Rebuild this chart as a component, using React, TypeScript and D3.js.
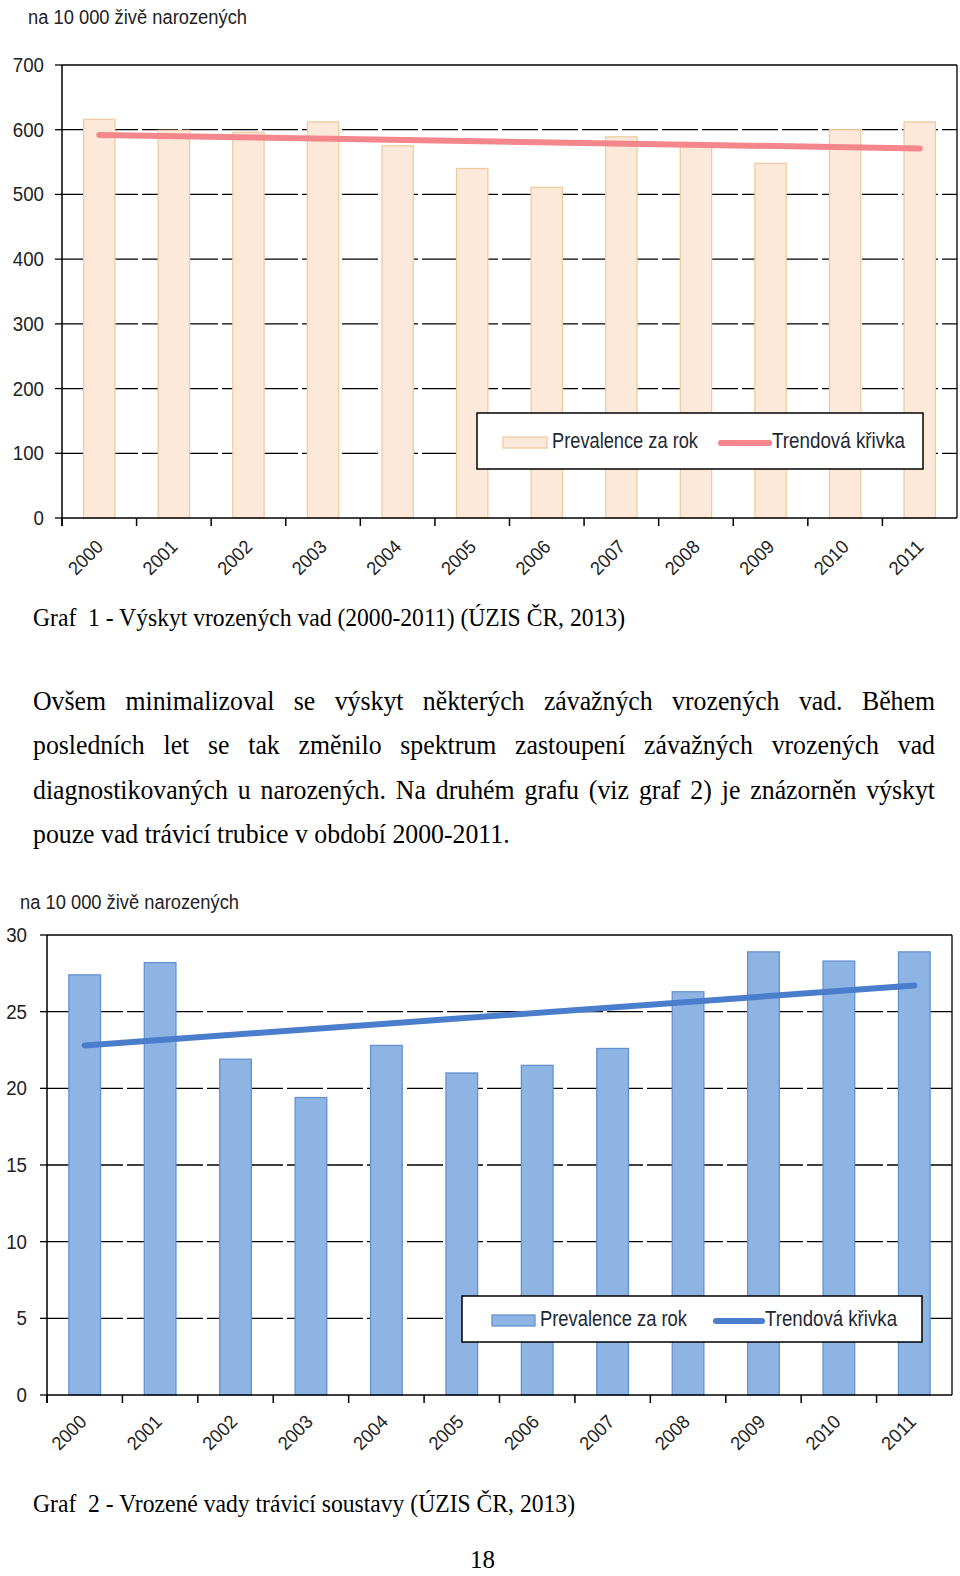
import React, { useMemo } from "react";
import * as d3 from "d3";

const years = ["2000","2001","2002","2003","2004","2005","2006","2007","2008","2009","2010","2011"];
const prevalence1 = [616, 599, 596, 612, 575, 540, 511, 589, 576, 548, 600, 612];
const trend1 = [592, 571];
const yTicks1 = [0, 100, 200, 300, 400, 500, 600, 700];

const prevalence2 = [27.4, 28.2, 21.9, 19.4, 22.8, 21.0, 21.5, 22.6, 26.3, 28.9, 28.3, 28.9];
const trend2 = [22.8, 26.7];
const yTicks2 = [0, 5, 10, 15, 20, 25, 30];

const unitTitle = "na 10 000 živě narozených";
const legendBar = "Prevalence za rok";
const legendLine = "Trendová křivka";
const caption1 = "Graf  1 - Výskyt vrozených vad (2000-2011) (ÚZIS ČR, 2013)";
const caption2 = "Graf  2 - Vrozené vady trávicí soustavy (ÚZIS ČR, 2013)";
const paragraph = [
  "Ovšem minimalizoval se výskyt některých závažných vrozených vad. Během",
  "posledních let se tak změnilo spektrum zastoupení závažných vrozených vad",
  "diagnostikovaných u narozených. Na druhém grafu (viz graf 2) je znázorněn výskyt",
  "pouze vad trávicí trubice v období 2000-2011.",
];
const pageNumber = "18";

const SANS = "'Liberation Sans', Arial, sans-serif";
const SERIF = "'Liberation Serif', 'Times New Roman', serif";

type ChartProps = {
  values: number[];
  trend: number[];
  ticks: number[];
  left: number; right: number; top: number; bottom: number;
  titleX: number; titleY: number;
  labelRight: number;
  barFill: string; barStroke: string; lineColor: string;
  legend: { x: number; y: number; w: number; h: number; sw: number; tx1: number; lx: number; tx2: number; ty: number; tw1: number; tw2: number };
  xLabelDx: number; xLabelDy: number;
};

function Chart(p: ChartProps) {
  const x = d3.scaleBand<string>().domain(years).range([p.left, p.right]).paddingInner(0.58).paddingOuter(0.29);
  const xEdges = d3.scaleBand<string>().domain(years).range([p.left, p.right]).padding(0);
  const yMax = p.ticks[p.ticks.length - 1];
  const y = d3.scaleLinear().domain([0, yMax]).range([p.bottom, p.top]);
  const center = (c: string) => (x(c) as number) + x.bandwidth() / 2;
  const trendPts: [number, number][] = [
    [center(years[0]), y(p.trend[0])],
    [center(years[years.length - 1]), y(p.trend[1])],
  ];
  const line = d3.line();
  const L = p.legend;
  return (
    <g>
      <text x={p.titleX} y={p.titleY} fontFamily={SANS} fontSize={20} fill="#222" textLength={219} lengthAdjust="spacingAndGlyphs">{unitTitle}</text>
      {p.ticks.map((t) => (
        <g key={"g" + t}>
          <line x1={p.left - 7} x2={p.left} y1={y(t)} y2={y(t)} stroke="#000" strokeWidth={1.3} />
          {t > 0 && t < yMax && (
            <line x1={p.left} x2={p.right} y1={y(t)} y2={y(t)} stroke="#000" strokeWidth={1.3} strokeDasharray="36 4" />
          )}
          <text x={p.labelRight} y={y(t) + 7} textAnchor="end" fontFamily={SANS} fontSize={20} fill="#222" textLength={String(t).length * 10.4} lengthAdjust="spacingAndGlyphs">{t}</text>
        </g>
      ))}
      <line x1={p.left} x2={p.right} y1={y(yMax)} y2={y(yMax)} stroke="#000" strokeWidth={1.3} />
      <line x1={p.right} x2={p.right} y1={y(yMax)} y2={y(0)} stroke="#000" strokeWidth={1.3} />
      {years.map((c, i) => (
        <rect key={"b" + c} x={x(c)} y={y(p.values[i])} width={x.bandwidth()} height={y(0) - y(p.values[i])}
          fill={p.barFill} stroke={p.barStroke} strokeWidth={1.3} />
      ))}
      <line x1={p.left} x2={p.left} y1={y(yMax)} y2={y(0) + 8} stroke="#000" strokeWidth={1.5} />
      <line x1={p.left} x2={p.right} y1={y(0)} y2={y(0)} stroke="#000" strokeWidth={1.5} />
      {years.map((c) => (
        <line key={"t" + c} x1={xEdges(c)} x2={xEdges(c)} y1={y(0)} y2={y(0) + 8} stroke="#000" strokeWidth={1.5} />
      ))}
      {years.map((c) => {
        const ax = center(c) + p.xLabelDx;
        const ay = y(0) + p.xLabelDy;
        return (
          <text key={"l" + c} x={ax} y={ay} transform={`rotate(-45 ${ax} ${ay})`} textAnchor="end"
            fontFamily={SANS} fontSize={19} fill="#222" textLength={40} lengthAdjust="spacingAndGlyphs">{c}</text>
        );
      })}
      <path d={line(trendPts) || ""} stroke={p.lineColor} strokeWidth={6} strokeLinecap="round" fill="none" />
      <rect x={L.x} y={L.y} width={L.w} height={L.h} fill="#fff" stroke="#000" strokeWidth={1.5} />
      <rect x={L.sw} y={L.ty - 11} width={L.tx1 - L.sw - 5} height={11} fill={p.barFill} stroke={p.barStroke} strokeWidth={1.3} />
      <text x={L.tx1} y={L.ty} fontFamily={SANS} fontSize={22} fill="#1e2833" textLength={L.tw1} lengthAdjust="spacingAndGlyphs">{legendBar}</text>
      <line x1={L.lx + 3} x2={L.tx2 - 3} y1={L.ty - 5} y2={L.ty - 5} stroke={p.lineColor} strokeWidth={6} strokeLinecap="round" />
      <text x={L.tx2} y={L.ty} fontFamily={SANS} fontSize={22} fill="#1e2833" textLength={L.tw2} lengthAdjust="spacingAndGlyphs">{legendLine}</text>
    </g>
  );
}

function Paragraph() {
  const left = 33, right = 935;
  const baselines = [710, 754, 799, 843];
  const size = 27;
  const squeeze = 0.955;
  const layout = useMemo(() => {
    const ctx = document.createElement("canvas").getContext("2d");
    if (ctx) ctx.font = `${size}px ${SERIF}`;
    const measure = (s: string) => (ctx ? ctx.measureText(s).width : s.length * 11) * squeeze;
    const spaceW = measure(" ");
    return paragraph.map((ln, li) => {
      const words = ln.split(" ");
      const widths = words.map(measure);
      const total = widths.reduce((a, b) => a + b, 0);
      const last = li === paragraph.length - 1;
      const gap = last ? spaceW : (right - left - total) / (words.length - 1);
      let cx = left;
      return words.map((w, i) => {
        const pos = cx;
        cx += widths[i] + gap;
        return { w, x: pos, len: widths[i] };
      });
    });
  }, []);
  return (
    <g fontFamily={SERIF} fontSize={size} fill="#000">
      {layout.map((ws, li) =>
        ws.map((o, i) => (
          <text key={li + "-" + i} x={o.x} y={baselines[li]} textLength={o.len} lengthAdjust="spacingAndGlyphs">{o.w}</text>
        ))
      )}
    </g>
  );
}

export default function App() {
  return (
    <svg width={960} height={1576} style={{ position: "absolute", left: 0, top: 0, background: "#fff" }}>
      <rect x={0} y={0} width={960} height={1576} fill="#fff" />
      <Chart values={prevalence1} trend={trend1} ticks={yTicks1}
        left={62} right={957} top={65} bottom={518} titleX={28} titleY={24} labelRight={44}
        barFill="#FDE9DA" barStroke="#EFCBA3" lineColor="#F5868B"
        legend={{ x: 477, y: 413, w: 446, h: 56, sw: 503, tx1: 552, lx: 718, tx2: 772, ty: 448, tw1: 146, tw2: 133 }}
        xLabelDx={5} xLabelDy={30} />
      <text x={33} y={626} fontFamily={SERIF} fontSize={26} fill="#000" style={{ whiteSpace: "pre" }} textLength={592} lengthAdjust="spacingAndGlyphs">{caption1}</text>
      <Paragraph />
      <Chart values={prevalence2} trend={trend2} ticks={yTicks2}
        left={47} right={952} top={935} bottom={1395} titleX={20} titleY={909} labelRight={27}
        barFill="#8EB4E3" barStroke="#6592CF" lineColor="#4A7ECD"
        legend={{ x: 462, y: 1296, w: 460, h: 46, sw: 492, tx1: 540, lx: 713, tx2: 765, ty: 1326, tw1: 147, tw2: 132 }}
        xLabelDx={3} xLabelDy={28} />
      <text x={33} y={1512} fontFamily={SERIF} fontSize={26} fill="#000" style={{ whiteSpace: "pre" }} textLength={542} lengthAdjust="spacingAndGlyphs">{caption2}</text>
      <text x={470} y={1568} fontFamily={SERIF} fontSize={25} fill="#000">{pageNumber}</text>
    </svg>
  );
}
